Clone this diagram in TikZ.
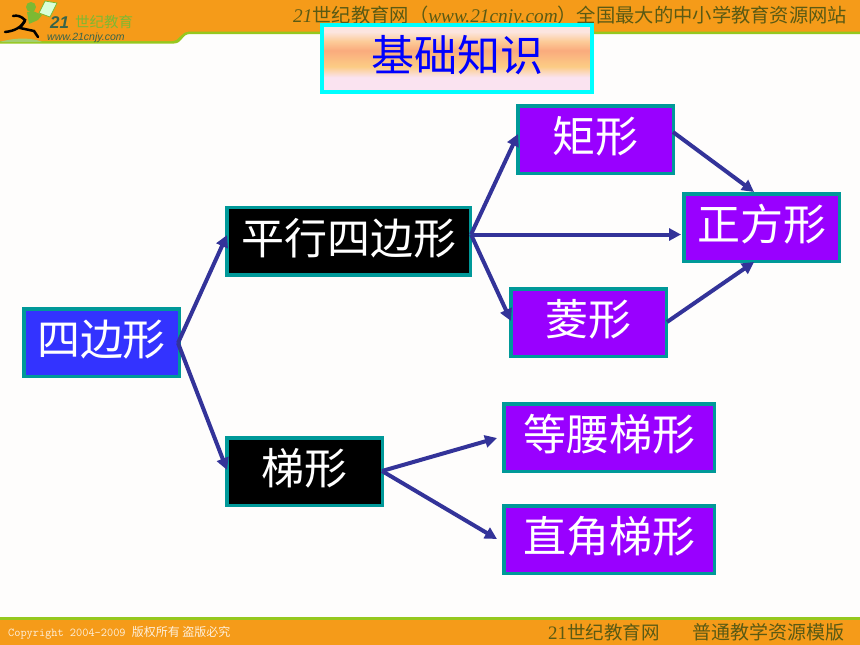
\documentclass[tikz,border=0pt]{standalone}
\usepackage{fontspec}
\setmainfont{Liberation Serif}
\setsansfont{Liberation Sans}
\newfontfamily\cjk{Noto Sans CJK SC}
\usetikzlibrary{arrows.meta}

\definecolor{bandorange}{RGB}{245,155,25}
\definecolor{bandgreen}{RGB}{150,200,30}
\definecolor{bandtext}{RGB}{90,90,20}
\definecolor{paperwhite}{RGB}{254,253,252}
\definecolor{boxteal}{RGB}{0,153,153}
\definecolor{boxpurple}{RGB}{153,0,255}
\definecolor{boxblue}{RGB}{51,51,255}
\definecolor{arrowblue}{RGB}{51,51,153}
\definecolor{logogreen}{RGB}{125,185,50}
\definecolor{logodark}{RGB}{55,100,75}
\definecolor{titlecyan}{RGB}{0,255,255}
\definecolor{titleblue}{RGB}{0,0,255}

\pgfdeclareverticalshading{titlefade}{100bp}{
  rgb(0bp)=(0.98,0.89,0.94);
  rgb(36bp)=(0.98,0.89,0.94);
  rgb(44bp)=(0.99,0.80,0.52);
  rgb(56bp)=(0.98,0.67,0.49);
  rgb(63bp)=(0.99,0.80,0.60);
  rgb(70bp)=(0.99,0.90,0.88);
  rgb(100bp)=(0.99,0.90,0.88)}

\tikzset{
  box/.style={draw=boxteal,line width=3.5pt,minimum height=67.5pt,text=white,inner sep=0pt,text height=31pt,text depth=5pt,font=\cjk\fontsize{43}{43}\selectfont},
  purplebox/.style={box,fill=boxpurple},
  blackbox/.style={box,fill=black},
  bluebox/.style={box,fill=boxblue},
  link/.style={-{Triangle[length=12pt,width=12pt]},draw=arrowblue,line width=4pt}
}

\begin{document}
\begin{tikzpicture}[x=1pt,y=-1pt]
  \useasboundingbox (0,0) rectangle (860,645);
  \fill[paperwhite] (0,0) rectangle (860,645);

  % top band
  \fill[bandgreen] (0,0) -- (860,0) -- (860,34) -- (190,34) .. controls (182,34) and (182,43.5) .. (174,43.5) -- (0,43.5) -- cycle;
  \fill[bandorange] (0,0) -- (860,0) -- (860,31.5) -- (190,31.5) .. controls (180,31.5) and (180,41) .. (172,41) -- (0,41) -- cycle;
  \node[anchor=west,text=bandtext,inner sep=0pt] (headline) at (293,16) {\fontsize{19.3}{19.3}\selectfont\itshape 21\cjk 世纪教育网（\rmfamily\itshape www.21cnjy.com\cjk）全国最大的中小学教育资源网站};

  % logo
  \fill[logogreen!70] (0,42) .. controls (15,37) and (35,38) .. (42,42) -- cycle;
  \fill[white!85!green,draw=logogreen,line width=.8pt] (39,13) -- (45,1) -- (57,3) -- (50,17) -- cycle;
  \fill[logogreen] (31,7) circle (5);
  \fill[logogreen] (27,12) -- (33,11) -- (42,15) -- (38,20) -- (29,24) -- cycle;
  \draw[black,line width=2.5pt,line cap=round] (5,32) .. controls (15,31) and (22,27) .. (25,20) .. controls (21,16) and (17,15) .. (13,16);
  \draw[black,line width=2.5pt,line cap=round] (25,21) -- (20,28) -- (34,31) -- (38,37);
  \node[anchor=west,inner sep=0pt,text=logodark] (logonum) at (50,22.5) {\fontsize{17}{17}\selectfont\sffamily\bfseries\itshape 21};
  \node[anchor=west,inner sep=0pt,text=logogreen] (logotext) at (75,22) {\cjk\fontsize{14.5}{14.5}\selectfont 世纪教育};
  \node[anchor=west,inner sep=0pt,text=logodark] (logourl) at (47,37.5) {\fontsize{10.5}{10.5}\selectfont\sffamily\itshape www.21cnjy.com};

  % bottom band
  \fill[bandgreen] (0,617) rectangle (860,620);
  \fill[bandorange] (0,620) rectangle (860,645);
  \node[anchor=west,text=white!85!bandorange,inner sep=0pt] (copyright) at (8,633) {\fontsize{12}{12}\selectfont\ttfamily Copyright 2004-2009 \cjk 版权所有 盗版必究};
  \node[anchor=west,text=bandtext,inner sep=0pt] (siteleft) at (548,632) {\fontsize{19}{19}\selectfont 21\cjk\fontsize{18.5}{18.5}\selectfont 世纪教育网};
  \node[anchor=west,text=bandtext,inner sep=0pt] (siteright) at (692,632) {\cjk\fontsize{19}{19}\selectfont 普通教学资源模版};

  % title
  \node[draw=titlecyan,line width=4pt,shading=titlefade,minimum width=270pt,minimum height=67pt,inner sep=0pt,text=titleblue,text height=31pt,text depth=5pt] (title) at (457,58.5) {\cjk\fontsize{43}{43}\selectfont 基础知识};

  % boxes
  \node[bluebox,minimum width=155.5pt] (quad) at (101.5,342.5) {四边形};
  \node[blackbox,minimum width=243.5pt] (para) at (348.5,241) {平行四边形};
  \node[blackbox,minimum width=155.5pt] (trap) at (304.5,471.5) {梯形};
  \node[purplebox,minimum width=155.5pt] (rect) at (595.5,139.5) {矩形};
  \node[purplebox,minimum width=155.5pt] (rhomb) at (588.5,322.5) {菱形};
  \node[purplebox,minimum width=155.5pt] (square) at (761.5,227.5) {正方形};
  \node[purplebox,minimum width=210.5pt] (iso) at (609,437.5) {等腰梯形};
  \node[purplebox,minimum width=210.5pt] (right) at (609,539.5) {直角梯形};

  % arrow ends that sit off the box centres
  \coordinate (quadout) at (178,343);
  \coordinate (parain) at (227,235);
  \coordinate (trapin) at (227,470);
  \coordinate (paraout) at (471,234.5);
  \coordinate (rectin) at (518,134);
  \coordinate (rhombin) at (511,321);
  \coordinate (squarein) at (681,234.5);
  \coordinate (rectout) at (673,132);
  \coordinate (squaretop) at (754,192);
  \coordinate (rhombout) at (667,322);
  \coordinate (squarebot) at (754,262);
  \coordinate (trapout) at (382,471);
  \coordinate (isoin) at (497,438);
  \coordinate (rightin) at (497,539);

  % arrows
  \draw[link] (quadout) -- (parain);
  \draw[link] (quadout) -- (trapin);
  \draw[link] (paraout) -- (rectin);
  \draw[link] (paraout) -- (squarein);
  \draw[link] (paraout) -- (rhombin);
  \draw[link] (rectout) -- (squaretop);
  \draw[link] (rhombout) -- (squarebot);
  \draw[link] (trapout) -- (isoin);
  \draw[link] (trapout) -- (rightin);
\end{tikzpicture}
\end{document}
